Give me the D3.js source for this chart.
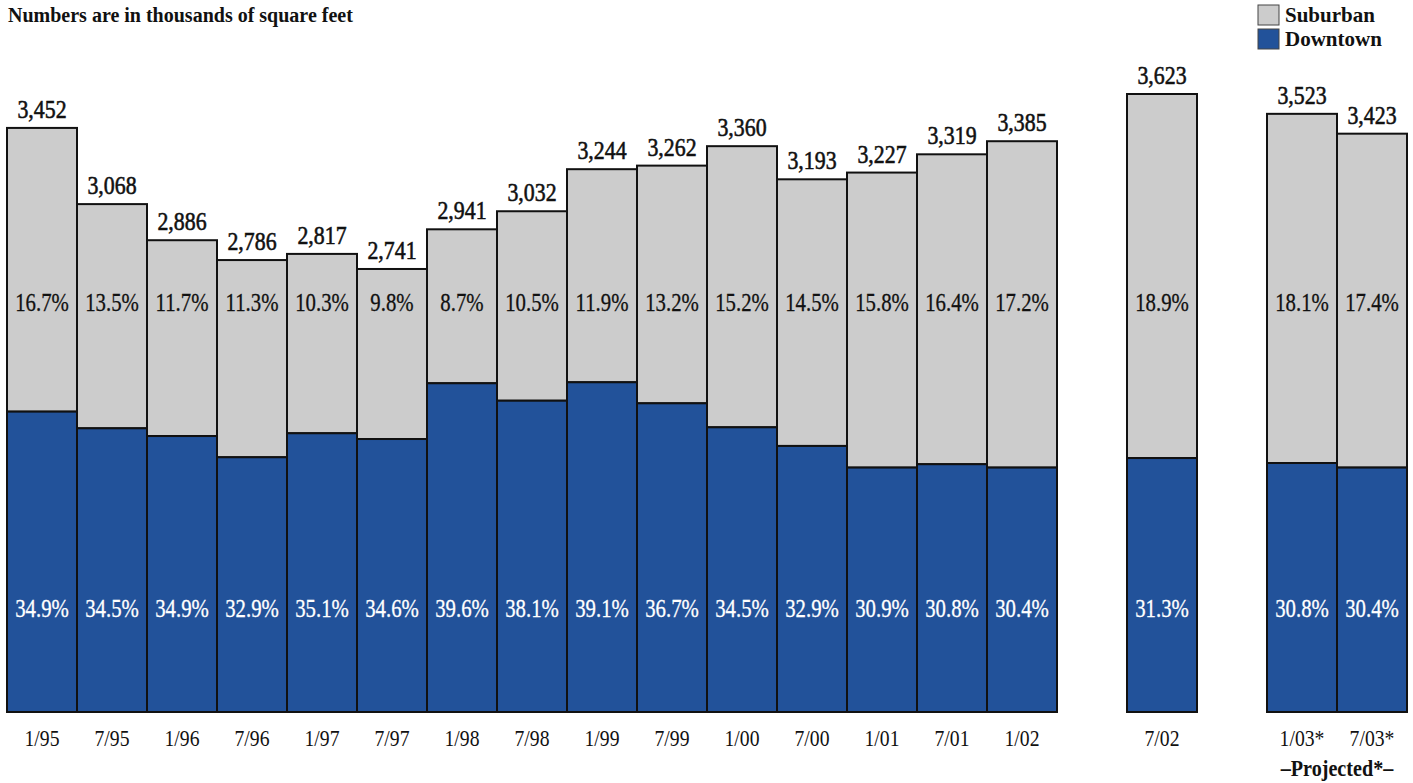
<!DOCTYPE html>
<html>
<head>
<meta charset="utf-8">
<script src="https://cdn.jsdelivr.net/npm/d3@7"></script>
<style>
  html, body { margin: 0; padding: 0; background: #fff; }
  svg { display: block; }
</style>
</head>
<body>
<svg id="chart" width="1413" height="783"></svg>
<script>
// Office space, thousands of square feet
const periods   = ["1/95","7/95","1/96","7/96","1/97","7/97","1/98","7/98","1/99","7/99","1/00","7/00","1/01","7/01","1/02","7/02","1/03*","7/03*"];
// which block each period belongs to (blocks are separated by a gap)
const blocks    = [0,0,0,0,0,0,0,0,0,0,0,0,0,0,0,1,2,2];
const totals    = [3452,3068,2886,2786,2817,2741,2941,3032,3244,3262,3360,3193,3227,3319,3385,3623,3523,3423];
const downtown  = [2022,1938,1899,1792,1913,1884,2165,2077,2170,2064,1943,1849,1740,1757,1740,1788,1763,1740];
const suburbanRate = ["16.7%","13.5%","11.7%","11.3%","10.3%","9.8%","8.7%","10.5%","11.9%","13.2%","15.2%","14.5%","15.8%","16.4%","17.2%","18.9%","18.1%","17.4%"];
const downtownRate = ["34.9%","34.5%","34.9%","32.9%","35.1%","34.6%","39.6%","38.1%","39.1%","36.7%","34.5%","32.9%","30.9%","30.8%","30.4%","31.3%","30.8%","30.4%"];
const legendItems = ["Suburban","Downtown"];

const colors = { Suburban: "#cccccc", Downtown: "#22529a" };
const serif = "'Liberation Serif', 'DejaVu Serif', serif";

const svg = d3.select("#chart");

// slot positions: one empty slot between blocks
const slots = periods.map((p, i) => i + blocks[i]);
const slotCount = d3.max(slots) + 1;

const x = d3.scaleBand()
  .domain(d3.range(slotCount))
  .range([7, 1407])
  .padding(0);

const y = d3.scaleLinear()
  .domain([508, 3623])
  .range([712, 94]);

const data = periods.map((p, i) => ({
  period: p,
  slot: slots[i],
  total: totals[i],
  down: downtown[i],
  subRate: suburbanRate[i],
  downRate: downtownRate[i]
}));

const fmt = d3.format(",");
const bw = x.bandwidth();

const bars = svg.append("g").selectAll("g.bar")
  .data(data)
  .join("g")
  .attr("class", "bar");

// suburban segment (top)
bars.append("rect")
  .attr("x", d => x(d.slot))
  .attr("y", d => y(d.total))
  .attr("width", bw)
  .attr("height", d => y(d.down) - y(d.total))
  .attr("fill", colors.Suburban)
  .attr("stroke", "#111")
  .attr("stroke-width", 2);

// downtown segment (bottom)
bars.append("rect")
  .attr("x", d => x(d.slot))
  .attr("y", d => y(d.down))
  .attr("width", bw)
  .attr("height", d => y.range()[0] - y(d.down))
  .attr("fill", colors.Downtown)
  .attr("stroke", "#111")
  .attr("stroke-width", 2);

// total labels above bars
bars.append("text")
  .attr("transform", d => `translate(${x(d.slot) + bw / 2},${y(d.total) - 10}) scale(0.84,1)`)
  .attr("text-anchor", "middle")
  .attr("font-family", serif)
  .attr("font-size", 26)
  .attr("fill", "#111")
  .attr("stroke", "#111")
  .attr("stroke-width", 0.6)
  .text(d => fmt(d.total));

// suburban vacancy rates
bars.append("text")
  .attr("transform", d => `translate(${x(d.slot) + bw / 2},311) scale(0.8,1)`)
  .attr("text-anchor", "middle")
  .attr("font-family", serif)
  .attr("font-size", 26)
  .attr("fill", "#111")
  .attr("stroke", "#111")
  .attr("stroke-width", 0.3)
  .text(d => d.subRate);

// downtown vacancy rates
bars.append("text")
  .attr("transform", d => `translate(${x(d.slot) + bw / 2},617) scale(0.8,1)`)
  .attr("text-anchor", "middle")
  .attr("font-family", serif)
  .attr("font-size", 26)
  .attr("fill", "#fff")
  .attr("stroke", "#fff")
  .attr("stroke-width", 0.3)
  .text(d => d.downRate);

// period labels
bars.append("text")
  .attr("transform", d => `translate(${x(d.slot) + bw / 2},746) scale(0.82,1)`)
  .attr("text-anchor", "middle")
  .attr("font-family", serif)
  .attr("font-size", 24)
  .attr("fill", "#111")
  .text(d => d.period);

// projected bracket label under the last block
const projSlots = data.filter((d, i) => blocks[i] === 2).map(d => d.slot);
const projCenter = (x(d3.min(projSlots)) + x(d3.max(projSlots)) + bw) / 2;
svg.append("text")
  .attr("transform", `translate(${projCenter},776) scale(0.84,1)`)
  .attr("text-anchor", "middle")
  .attr("font-family", serif)
  .attr("font-size", 24)
  .attr("font-weight", "bold")
  .attr("fill", "#111")
  .text("\u2013Projected*\u2013");

// subtitle
svg.append("text")
  .attr("x", 8)
  .attr("y", 22)
  .attr("font-family", serif)
  .attr("font-size", 20)
  .attr("font-weight", "bold")
  .attr("fill", "#111")
  .text("Numbers are in thousands of square feet");

// legend
const legend = svg.append("g").selectAll("g")
  .data(legendItems)
  .join("g")
  .attr("transform", (d, i) => `translate(1258,${5 + i * 24})`);

legend.append("rect")
  .attr("width", 21)
  .attr("height", 20)
  .attr("fill", d => colors[d])
  .attr("stroke", "#444")
  .attr("stroke-width", 1);

legend.append("text")
  .attr("x", 27)
  .attr("y", 17)
  .attr("font-family", serif)
  .attr("font-size", 21)
  .attr("font-weight", "bold")
  .attr("fill", "#111")
  .text(d => d);
</script>
</body>
</html>
